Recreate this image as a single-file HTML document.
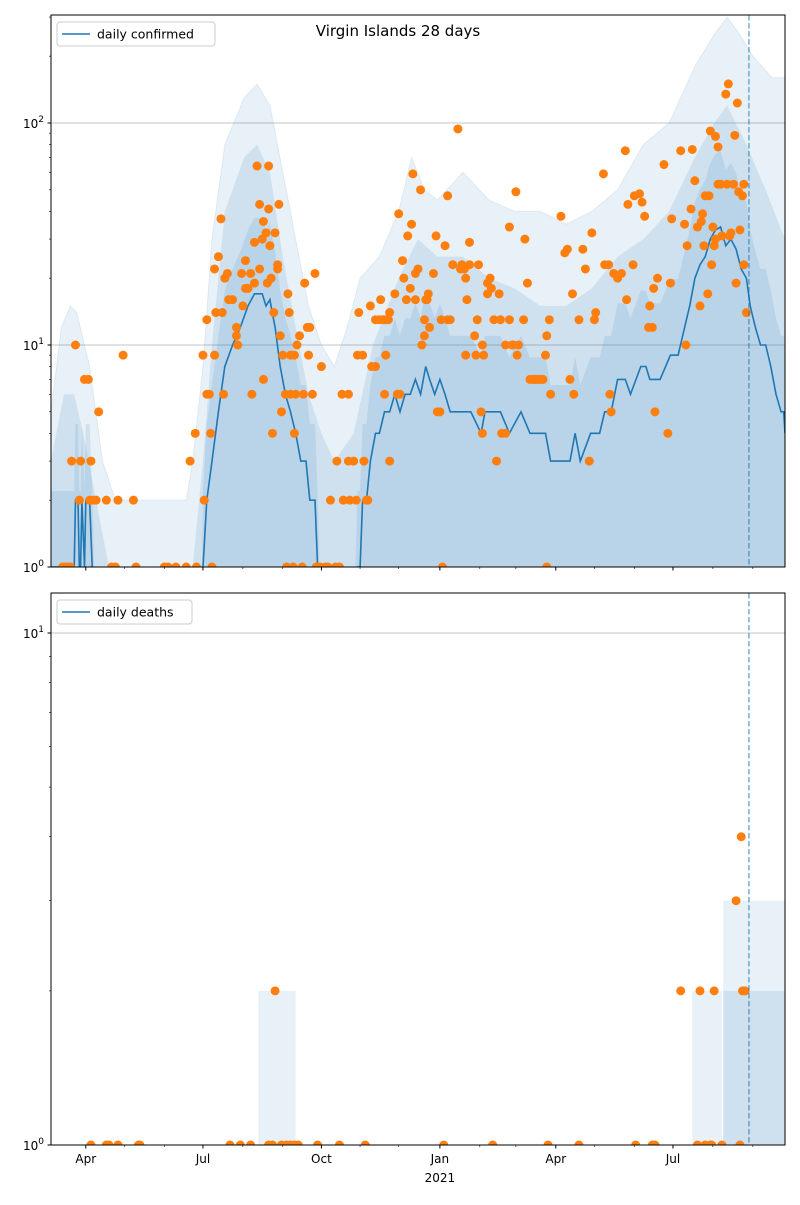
<!DOCTYPE html>
<html><head><meta charset="utf-8"><style>
body{margin:0;background:#fff;font-family:"Liberation Sans","DejaVu Sans",sans-serif;}
svg text{font-family:"DejaVu Sans","Liberation Sans",sans-serif;}
</style></head><body>
<svg id="chart" width="800" height="1200" viewBox="0 0 800 1200" xmlns="http://www.w3.org/2000/svg">
<defs>
<clipPath id="clipTop"><rect x="51" y="15" width="734" height="552"/></clipPath>
<clipPath id="clipBot"><rect x="51" y="593" width="734" height="552"/></clipPath>
</defs>
<g id="topPanel"></g>
<g id="botPanel"></g>
</svg>
<script>
// days are counted from 2020-03-05
const monthTickDays = [27,118,210,302,392,483];
const monthTickLabels = ["Apr","Jul","Oct","Jan","Apr","Jul"];
const minorTickDays = [57,88,149,180,240,270,333,361,422,453,514,545];
const todayDay = 542;
const confirmedPoints = [[9,1],[11,1],[13,1],[15,1],[16,3],[19,10],[22,2],[23,3],[26,7],[29,7],[30,2],[31,3],[33,2],[35,2],[37,5],[43,2],[47,1],[50,1],[52,2],[56,9],[64,2],[66,1],
[88,1],[91,1],[97,1],[105,1],[108,3],[112,4],[113,1],[118,9],[119,2],[121,13],[121,6],[123,6],[124,4],[125,1],[127,9],[127,22],[128,14],[130,25],[132,37],[133,14],[134,6],[135,20],[137,21],[138,16],[141,16],[144,12],[144,11],[145,10],[148,21],[149,15],[151,18],[151,24],[153,18],[155,21],[156,6],[158,19],[158,29],[160,64],[162,43],[162,22],[164,30],[165,7],[165,36],[167,32],[168,19],[169,41],[169,64],[170,28],[171,20],[172,4],[173,14],[174,32],[176,22],[176,23],[177,43],[178,11],[179,5],[180,9],[182,6],[183,1],[184,17],[185,14],[186,6],[186,9],[188,1],[189,4],[189,9],[190,6],[191,10],[193,11],[195,1],[196,6],[197,19],[199,12],[200,9],[201,12],[203,6],[205,21],[206,1],[207,1],[209,1],[210,8],[213,1],[215,1],[217,2],[221,1],[222,3],[224,1],[226,6],[227,2],[231,6],[231,3],[232,2],[235,3],[237,2],[238,9],[239,14],[242,9],[243,3],[245,2],[246,2],[248,15],[249,8],[252,13],[252,8],[255,13],[256,16],[258,13],[259,6],[260,9],[260,13],[262,13],[263,3],[263,14],[267,17],[269,6],[270,39],[271,6],[273,24],[274,20],[276,16],[277,31],[279,18],[280,35],[281,59],[283,21],[283,16],[285,22],[287,50],[288,10],[290,11],[290,13],[291,16],[292,16],[293,17],[294,12],[297,21],[299,31],[300,5],[302,5],[303,13],[304,1],[306,28],[308,13],[308,47],[310,13],[312,23],[316,94],[318,22],[319,23],[321,22],[322,9],[322,20],[323,16],[325,29],[325,23],[329,11],[330,9],[331,13],[332,23],[334,5],[335,4],[335,10],[336,9],[339,17],[339,19],[341,20],[342,18],[344,13],[346,3],[348,17],[349,13],[350,4],[353,4],[353,10],[356,34],[356,13],[358,10],[359,10],[361,49],[362,9],[363,10],[367,13],[368,30],[370,19],[372,7],[374,7],[376,7],[377,7],[379,7],[381,7],[382,7],[384,9],[385,1],[385,11],[387,13],[388,6],[396,38],[399,26],[401,27],[403,7],[405,17],[406,6],[410,13],[413,27],[415,22],[418,3],[420,32],[422,13],[423,14],[429,59],[430,23],[433,23],[434,6],[435,5],[437,21],[440,20],[443,21],[446,75],[447,16],[448,43],[452,23],[453,47],[457,48],[459,44],[461,38],[464,12],[465,15],[467,12],[468,18],[469,5],[471,20],[476,65],[479,4],[481,19],[482,37],[489,75],[492,35],[493,10],[494,28],[497,41],[498,76],[500,55],[502,34],[504,15],[505,36],[506,39],[507,28],[508,47],[510,17],[511,47],[512,92],[513,23],[514,34],[515,28],[516,87],[516,30],[518,53],[518,78],[520,53],[521,31],[524,135],[525,53],[526,150],[527,31],[528,32],[530,53],[531,88],[532,19],[533,123],[534,49],[535,33],[537,47],[538,23],[538,53],[540,14]];
const confirmedLine = [[0,1],[18,1],[19,2],[21,2],[22,1],[23,1],[24,2],[26,1],[27,2],[30,2],[32,1],[34,0],[117,0],[118,1],[121,2],[125,3],[130,5],[135,8],[141,10],[147,12],[153,15],[158,17],[164,17],[167,15],[170,16],[174,12],[178,8],[182,6],[186,5],[190,4],[194,3],[198,3],[201,2],[205,2],[207,1],[209,0],[236,0],[238,1],[240,1],[242,2],[245,2],[248,3],[252,4],[255,4],[259,5],[263,5],[267,6],[271,5],[275,6],[279,6],[283,7],[287,6],[291,8],[294,7],[298,6],[302,7],[306,6],[310,5],[314,5],[318,5],[326,5],[334,4],[337,5],[349,5],[356,4],[365,5],[372,4],[384,4],[388,3],[396,3],[403,3],[407,4],[411,3],[419,4],[426,4],[430,5],[435,5],[440,7],[446,7],[450,6],[458,8],[462,8],[465,7],[473,7],[481,9],[487,9],[492,12],[496,15],[500,20],[504,23],[508,25],[512,30],[516,33],[520,34],[524,28],[528,30],[532,27],[536,22],[540,20],[543,15],[547,12],[551,10],[555,10],[559,8],[563,6],[567,5],[569,5],[570,4]];
const outerBandUpper = [[0,5],[8,12],[15,15],[20,14],[30,8],[40,3],[50,2],[105,2],[110,3],[118,8],[125,30],[135,80],[150,130],[160,150],[170,120],[180,60],[190,30],[200,15],[210,10],[220,8],[230,12],[240,20],[255,25],[270,40],[280,70],[290,50],[300,45],[320,60],[340,45],[360,40],[380,40],[400,35],[420,40],[440,50],[460,80],[480,100],[500,180],[515,250],[525,300],[535,250],[545,200],[560,160],[570,160]];
const middleBandUpper = [[0,3],[10,6],[18,6],[25,4],[35,2],[45,1],[110,1],[118,3],[125,10],[135,40],[150,70],[160,80],[170,60],[180,25],[190,12],[200,6],[210,4],[220,3],[235,4],[250,10],[270,20],[285,30],[300,25],[320,25],[340,20],[360,18],[380,15],[400,15],[420,18],[440,25],[460,30],[480,40],[500,70],[515,100],[525,120],[540,80],[555,50],[570,30]];
const deathPoints = [[31,1],[43,1],[45,1],[52,1],[68,1],[69,1],[139,1],[147,1],[155,1],[169,1],[172,1],[179,1],[183,1],[186,1],[189,1],[192,1],[207,1],[224,1],[244,1],[305,1],[343,1],[386,1],[410,1],[454,1],[467,1],[469,1],[502,1],[508,1],[512,1],[513,1],[521,1],[535,1],[174,2],[489,2],[504,2],[515,2],[537,2],[539,2],[532,3],[536,4]];
const deathBandsOuter = [[161,190,2],[498,521,2],[522,570,3]];
const deathBandsInner = [[522,570,2]];

const NS="http://www.w3.org/2000/svg";
const svgEl=document.getElementById('chart');
function mk(tag,attrs,parent){const e=document.createElementNS(NS,tag);for(const k in attrs)e.setAttribute(k,attrs[k]);(parent||svgEl).appendChild(e);return e;}
const X0=51,X1=785,D0=0,D1=570;
function xs(d){return X0+(d-D0)*(X1-X0)/(D1-D0);}
function yTop(v){return 567-Math.log10(Math.max(v,0.5))*222;}
function yBot(v){return 1145-Math.log10(Math.max(v,0.5))*512;}

function bandPath(upper,ys,lowerVal){
  let d='M'+xs(upper[0][0])+','+ys(lowerVal);
  upper.forEach(p=>{d+=' L'+xs(p[0])+','+ys(p[1]);});
  d+=' L'+xs(upper[upper.length-1][0])+','+ys(lowerVal)+' Z';return d;
}

// ---- TOP PANEL ----
const topPanel=document.getElementById('topPanel');
const tg=mk('g',{'clip-path':'url(#clipTop)'},topPanel);
[10,100].forEach(v=>{const l=mk('line',{x1:51,x2:785,y1:yTop(v),y2:yTop(v),stroke:'#b0b0b0','stroke-width':0.8},tg);

});
const ob=mk('path',{d:bandPath(outerBandUpper,yTop,0.8),fill:'#1f77b4','fill-opacity':0.1,stroke:'#1f77b4','stroke-opacity':0.1},tg);


const mb=mk('path',{d:bandPath(middleBandUpper,yTop,0.8),fill:'#1f77b4','fill-opacity':0.12},tg);


const innerUpper=confirmedLine.map(p=>[p[0],Math.max(p[1]*2.2,p[1]>0?2:0.8)]);
const ib=mk('path',{d:bandPath(innerUpper,yTop,0.8),fill:'#1f77b4','fill-opacity':0.12},tg);


let ld='';confirmedLine.forEach((p,i)=>{ld+=(i?' L':'M')+xs(p[0]).toFixed(1)+','+(p[1]>0?yTop(p[1]):600).toFixed(1);});
const line=mk('path',{d:ld,fill:'none',stroke:'#1f77b4','stroke-width':1.6},tg);


confirmedPoints.forEach(p=>{const c=mk('circle',{cx:xs(p[0]),cy:yTop(p[1]),r:4.5,fill:'#ff7f0e'},tg);

});
const vt=mk('line',{x1:xs(todayDay),x2:xs(todayDay),y1:15,y2:567,stroke:'#1f77b4','stroke-opacity':0.6,'stroke-width':1.5,'stroke-dasharray':'5.5,2.5'},tg);



// ---- BOTTOM PANEL ----
const botPanel=document.getElementById('botPanel');
const bg=mk('g',{'clip-path':'url(#clipBot)'},botPanel);
const gl=mk('line',{x1:51,x2:785,y1:yBot(10),y2:yBot(10),stroke:'#b0b0b0','stroke-width':0.8},bg);


deathBandsOuter.forEach(b=>{const r=mk('rect',{x:xs(b[0]),y:yBot(b[2]),width:xs(b[1])-xs(b[0]),height:1145-yBot(b[2]),fill:'#1f77b4','fill-opacity':0.1},bg);

});
deathBandsInner.forEach(b=>{const r=mk('rect',{x:xs(b[0]),y:yBot(b[2]),width:xs(b[1])-xs(b[0]),height:1145-yBot(b[2]),fill:'#1f77b4','fill-opacity':0.12},bg);

});
deathPoints.forEach(p=>{const c=mk('circle',{cx:xs(p[0]),cy:yBot(p[1]),r:4.5,fill:'#ff7f0e'},bg);

});
const vb=mk('line',{x1:xs(todayDay),x2:xs(todayDay),y1:593,y2:1145,stroke:'#1f77b4','stroke-opacity':0.6,'stroke-width':1.5,'stroke-dasharray':'5.5,2.5'},bg);



// ---- AXES ----
function axes(parent,y0,y1,ys,decades,minorMax,showLabels){
  const fr=mk('rect',{x:51,y:y0,width:734,height:y1-y0,fill:'none',stroke:'#000','stroke-width':1},parent);
  
  
  decades.forEach(e=>{const y=ys(Math.pow(10,e));
    mk('line',{x1:47.5,x2:51,y1:y,y2:y,stroke:'#000'},parent);
    const t=mk('text',{x:44,y:y+5,'font-size':12,'text-anchor':'end'},parent);
    
    
    t.textContent='10';const s=mk('tspan',{dy:-6,'font-size':9},t);s.textContent=String(e);});
  for(let e=0;e<3;e++)for(let m=2;m<=9;m++){const v=m*Math.pow(10,e);if(v>minorMax)break;const y=ys(v);
    mk('line',{x1:49,x2:51,y1:y,y2:y,stroke:'#000','stroke-width':0.6},parent);}
  monthTickDays.forEach((d,i)=>{const x=xs(d);mk('line',{x1:x,x2:x,y1:y1,y2:y1+3.5,stroke:'#000'},parent);
    if(showLabels){const t=mk('text',{x:x,y:y1+18,'font-size':12,'text-anchor':'middle'},parent);
      
      
      t.textContent=monthTickLabels[i];}});
  minorTickDays.forEach(d=>{const x=xs(d);mk('line',{x1:x,x2:x,y1:y1,y2:y1+2,stroke:'#000','stroke-width':0.6},parent);});
}
axes(topPanel,15,567,yTop,[0,1,2],300,false);
axes(botPanel,593,1145,yBot,[0,1],12,true);
const yr=mk('text',{x:xs(302),y:1182,'font-size':12,'text-anchor':'middle'},botPanel);


yr.textContent='2021';

const title=mk('text',{x:398,y:36,'font-size':15,'text-anchor':'middle'},topPanel);


title.textContent='Virgin Islands 28 days';

function legend(parent,y,w,label,name){
  const g=mk('g',{},parent);
  
  
  mk('rect',{x:57,y:y,width:w,height:24,rx:3,fill:'#fff','fill-opacity':0.8,stroke:'#ccc'},g);
  mk('line',{x1:62,x2:90,y1:y+12,y2:y+12,stroke:'#1f77b4','stroke-width':1.6},g);
  const t=mk('text',{x:97,y:y+16.5,'font-size':12.5},g);t.textContent=label;
}
legend(topPanel,22,158,'daily confirmed','legend-confirmed');
legend(botPanel,600,135,'daily deaths','legend-deaths');
</script>
</body></html>
